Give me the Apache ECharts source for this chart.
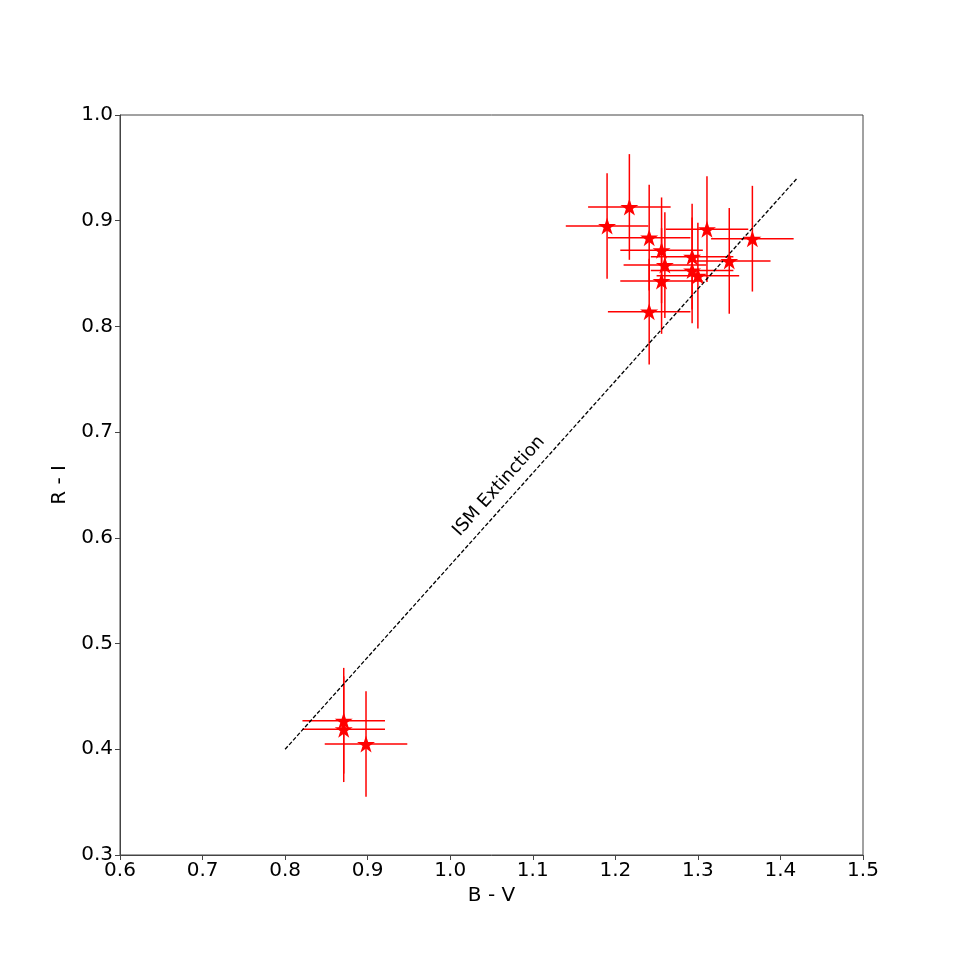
<!DOCTYPE html>
<html>
<head>
<meta charset="utf-8">
<script src="https://cdn.jsdelivr.net/npm/echarts@6/dist/echarts.min.js"></script>
<style>
  html, body { margin: 0; padding: 0; background: #fff; }
  #chart { width: 960px; height: 960px; }
</style>
</head>
<body>
<div id="chart"></div>
<script>
// colour indices
const bv = [1.190, 1.217, 1.241, 1.256, 1.260, 1.256, 1.241, 1.293, 1.293, 1.300, 1.311, 1.338, 1.366, 0.871, 0.871, 0.898];
const ri = [0.895, 0.913, 0.884, 0.872, 0.858, 0.843, 0.814, 0.866, 0.853, 0.848, 0.892, 0.862, 0.883, 0.427, 0.419, 0.405];
const bvErr = [0.05, 0.05, 0.05, 0.05, 0.05, 0.05, 0.05, 0.05, 0.05, 0.05, 0.05, 0.05, 0.05, 0.05, 0.05, 0.05];
const riErr = [0.05, 0.05, 0.05, 0.05, 0.05, 0.05, 0.05, 0.05, 0.05, 0.05, 0.05, 0.05, 0.05, 0.05, 0.05, 0.05];

// ISM reddening vector
const ismLine = [[0.8, 0.4], [1.42, 0.94]];
const ismLabel = [1.059, 0.649];

const points = bv.map((x, i) => [x, ri[i], bvErr[i], riErr[i]]);

// five pointed star, like the matplotlib '*' marker
const starPath = 'path://M0,-1L0.2245,-0.309L0.9511,-0.309L0.3633,0.118L0.5878,0.809L0,0.382L-0.5878,0.809L-0.3633,0.118L-0.9511,-0.309L-0.2245,-0.309Z';

const font = 'DejaVu Sans';
const spine = '#444';

const chart = echarts.init(document.getElementById('chart'));

chart.setOption({
  animation: false,
  grid: {
    left: 120,
    right: 97,
    top: 115,
    bottom: 105,
    show: true,
    borderColor: spine,
    borderWidth: 1,
    backgroundColor: 'transparent'
  },
  xAxis: {
    type: 'value',
    min: 0.6,
    max: 1.5,
    interval: 0.1,
    name: 'B - V',
    nameLocation: 'middle',
    nameGap: 27,
    nameTextStyle: { fontFamily: font, fontSize: 20, color: '#000' },
    axisLine: { show: true, lineStyle: { color: spine, width: 1 } },
    axisTick: { show: true, length: 5, lineStyle: { color: spine } },
    axisLabel: {
      fontFamily: font, fontSize: 20, color: '#000', margin: 6,
      formatter: v => v.toFixed(1)
    },
    splitLine: { show: false }
  },
  yAxis: {
    type: 'value',
    min: 0.3,
    max: 1.0,
    interval: 0.1,
    name: 'R - I',
    nameLocation: 'middle',
    nameGap: 43,
    nameTextStyle: { fontFamily: font, fontSize: 20, color: '#000' },
    axisLine: { show: true, lineStyle: { color: spine, width: 1 } },
    axisTick: { show: true, length: 5, lineStyle: { color: spine } },
    axisLabel: {
      fontFamily: font, fontSize: 20, color: '#000', margin: 7,
      formatter: v => v.toFixed(1)
    },
    splitLine: { show: false }
  },
  series: [
    {
      name: 'ISM',
      type: 'line',
      data: ismLine,
      symbol: 'none',
      lineStyle: { color: '#000', width: 1.3, type: [4, 2] },
      silent: true
    },
    {
      // text along the reddening vector
      type: 'custom',
      data: [ismLabel],
      silent: true,
      renderItem: (params, api) => {
        const p = api.coord([api.value(0), api.value(1)]);
        return {
          type: 'text',
          x: p[0],
          y: p[1],
          rotation: 48 * Math.PI / 180,
          style: {
            text: 'ISM Extinction',
            fontFamily: font,
            fontSize: 18,
            fill: '#000',
            align: 'center',
            verticalAlign: 'middle'
          }
        };
      }
    },
    {
      // error bars
      type: 'custom',
      data: points,
      silent: true,
      renderItem: (params, api) => {
        const x = api.value(0), y = api.value(1);
        const ex = api.value(2), ey = api.value(3);
        const l = api.coord([x - ex, y]);
        const r = api.coord([x + ex, y]);
        const t = api.coord([x, y + ey]);
        const b = api.coord([x, y - ey]);
        const st = { stroke: '#ff0000', lineWidth: 1.5 };
        return {
          type: 'group',
          children: [
            { type: 'line', shape: { x1: l[0], y1: l[1], x2: r[0], y2: r[1] }, style: st },
            { type: 'line', shape: { x1: t[0], y1: t[1], x2: b[0], y2: b[1] }, style: st }
          ]
        };
      }
    },
    {
      type: 'scatter',
      data: points,
      symbol: starPath,
      symbolSize: [18, 17],
      itemStyle: { color: '#ff0000', opacity: 1 },
      z: 5
    }
  ]
});
</script>
</body>
</html>
